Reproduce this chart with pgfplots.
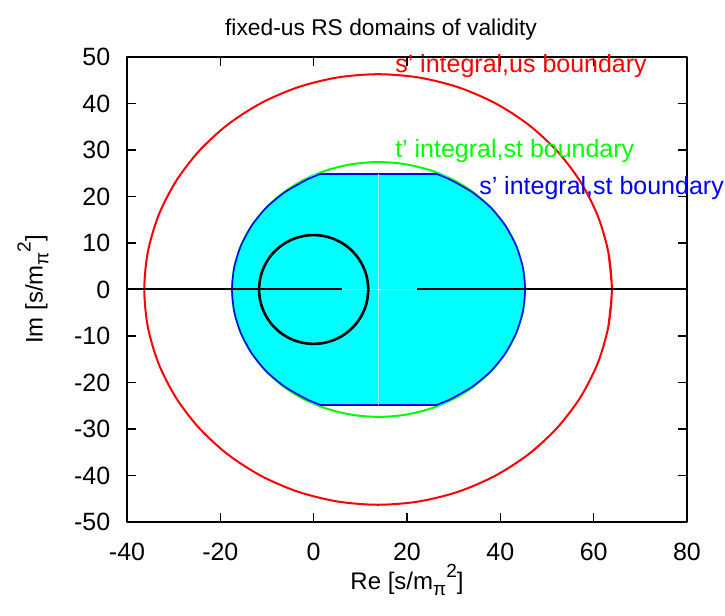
\documentclass[border=0pt]{standalone}
\usepackage{pgfplots}
\pgfplotsset{compat=1.18}
\usepackage{fontspec}
\setmainfont{Liberation Sans}
\newcommand{\mpi}{m\raisebox{-0.45ex}{\fontsize{9.5pt}{10pt}\selectfont π}\raisebox{0.95ex}{\fontsize{9.5pt}{10pt}\selectfont 2}}
\begin{document}
\fontsize{12.5pt}{14pt}\selectfont
\begin{tikzpicture}
\begin{axis}[
  scale only axis, width=280pt, height=232.5pt,
  xmin=-40, xmax=80, ymin=-50, ymax=50,
  xtick={-40,-20,...,80}, ytick={-50,-40,...,50},
  tick align=inside, major tick length=4.5pt,
  axis line style={line width=1pt},
  every tick/.style={black, line width=0.8pt},
  /pgf/number format/assume math mode=true,
  font=\fontsize{12.5pt}{14pt}\selectfont,
  xticklabel style={yshift=-6pt},
  yticklabel style={xshift=-4pt},
  clip=false,
  title={fixed-us RS domains of validity},
  title style={at={(axis description cs:0.4536,1.033)}, anchor=center, font=\fontsize{11.4pt}{13pt}\selectfont},
  xlabel={Re [s/\mpi]},
  xlabel style={at={(axis description cs:0.5,-0.125)}, anchor=center, font=\fontsize{12pt}{14pt}\selectfont},
  ylabel={Im [s/\mpi]},
  ylabel style={at={(axis description cs:-0.168,0.5)}, anchor=center, font=\fontsize{12pt}{14pt}\selectfont},
  line join=round,
]
\coordinate (bbl) at (rel axis cs:-0.2268,-0.2022);
\coordinate (btr) at (rel axis cs:1.0679,1.1226);
% s' integral, us boundary
\addplot[red, line width=1pt, smooth] coordinates {
(63.139,-8.040) (63.9,0) (63.139,8.040) (60.878,15.836) (57.188,23.15) (52.179,29.761) (46.004,35.468) (38.85,40.097) (30.935,43.508) (22.5,45.597) (13.8,46.3) (5.1,45.597) (-3.335,43.508) (-11.25,40.097) (-18.404,35.468) (-24.579,29.761) (-29.588,23.15) (-33.278,15.836) (-35.539,8.040) (-36.3,0) (-35.539,-8.040) (-33.278,-15.836) (-29.588,-23.15) (-24.579,-29.761) (-18.404,-35.468) (-11.25,-40.097) (-3.335,-43.508) (5.1,-45.597) (13.8,-46.3) (22.5,-45.597) (30.935,-43.508) (38.85,-40.097) (46.004,-35.468) (52.179,-29.761) (57.188,-23.15) (60.878,-15.836) (63.139,-8.040) (63.9,0) (63.139,8.040)
};
% t' integral, st boundary
\addplot[color={rgb,255:red,0;green,255;blue,0}, line width=1pt, smooth] coordinates {
(44.823,-4.758) (45.3,0) (44.823,4.758) (43.406,9.371) (41.093,13.7) (37.954,17.612) (34.084,20.989) (29.6,23.729) (24.639,25.748) (19.353,26.984) (13.9,27.4) (8.447,26.984) (3.161,25.748) (-1.8,23.729) (-6.284,20.989) (-10.154,17.612) (-13.293,13.7) (-15.606,9.371) (-17.023,4.758) (-17.5,0) (-17.023,-4.758) (-15.606,-9.371) (-13.293,-13.7) (-10.154,-17.612) (-6.284,-20.989) (-1.8,-23.729) (3.161,-25.748) (8.447,-26.984) (13.9,-27.4) (19.353,-26.984) (24.639,-25.748) (29.6,-23.729) (34.084,-20.989) (37.954,-17.612) (41.093,-13.7) (43.406,-9.371) (44.823,-4.758) (45.3,0) (44.823,4.758)
};
% s' integral, st boundary (filled): fill, then outline pieces
\addplot[draw=none, fill={rgb,255:red,0;green,255;blue,255}, smooth, tension=0.4] coordinates {
(45.3,0) (44.823,4.758) (43.406,9.371) (41.093,13.7) (37.954,17.612) (34.0,20.9) (29.3,23.6) (26.2,24.9) (1.6,24.9) (-1.5,23.6) (-6.2,20.9) (-10.154,17.612) (-13.293,13.7) (-15.606,9.371) (-17.023,4.758) (-17.5,0) (-17.023,-4.758) (-15.606,-9.371) (-13.293,-13.7) (-10.154,-17.612) (-6.2,-20.9) (-1.5,-23.6) (1.6,-24.9) (26.2,-24.9) (29.3,-23.6) (34.0,-20.9) (37.954,-17.612) (41.093,-13.7) (43.406,-9.371) (44.823,-4.758) (45.3,0)
} -- cycle;
\addplot[blue, line width=0.8pt, smooth, tension=0.4] coordinates {
(26.2,24.9) (29.3,23.6) (34.0,20.9) (37.954,17.612) (41.093,13.7) (43.406,9.371) (44.823,4.758) (45.3,0) (44.823,-4.758) (43.406,-9.371) (41.093,-13.7) (37.954,-17.612) (34.0,-20.9) (29.3,-23.6) (26.2,-24.9)
};
\addplot[blue, line width=0.8pt, smooth, tension=0.4] coordinates {
(1.6,24.9) (-1.5,23.6) (-6.2,20.9) (-10.154,17.612) (-13.293,13.7) (-15.606,9.371) (-17.023,4.758) (-17.5,0) (-17.023,-4.758) (-15.606,-9.371) (-13.293,-13.7) (-10.154,-17.612) (-6.2,-20.9) (-1.5,-23.6) (1.6,-24.9)
};
\addplot[blue, line width=0.8pt] coordinates {(1.6,24.9) (26.2,24.9)};
\addplot[blue, line width=0.8pt] coordinates {(1.6,-24.9) (26.2,-24.9)};
% faint seams in the fill
\addplot[color=cyan!35!white, line width=0.4pt] coordinates {(13.9,-24.9) (13.9,24.9)};
\addplot[color=cyan!35!white, line width=0.4pt] coordinates {(6.1,0) (22.2,0)};
% cuts on the real axis
\addplot[black, line width=1pt] coordinates {(-40,0) (6.1,0)};
\addplot[black, line width=1pt] coordinates {(22.2,0) (80,0)};
% black circle
\addplot[black, line width=1.3pt, smooth] coordinates {
(11.522,-2.032) (11.7,0) (11.522,2.032) (10.994,4.002) (10.133,5.85) (8.963,7.521) (7.521,8.963) (5.85,10.133) (4.002,10.994) (2.032,11.522) (0,11.7) (-2.032,11.522) (-4.002,10.994) (-5.85,10.133) (-7.521,8.963) (-8.963,7.521) (-10.133,5.85) (-10.994,4.002) (-11.522,2.032) (-11.7,0) (-11.522,-2.032) (-10.994,-4.002) (-10.133,-5.85) (-8.963,-7.521) (-7.521,-8.963) (-5.85,-10.133) (-4.002,-10.994) (-2.032,-11.522) (0,-11.7) (2.032,-11.522) (4.002,-10.994) (5.85,-10.133) (7.521,-8.963) (8.963,-7.521) (10.133,-5.85) (10.994,-4.002) (11.522,-2.032) (11.7,0) (11.522,2.032)
};
\node[red, anchor=west, inner sep=0] at (axis cs:17.4,48.0) {s' integral,us boundary};
\node[color={rgb,255:red,0;green,255;blue,0}, anchor=west, inner sep=0] at (axis cs:17.4,29.8) {t' integral,st boundary};
\node[blue, anchor=west, inner sep=0] at (axis cs:35.4,21.8) {s' integral,st boundary};
\end{axis}
\pgfresetboundingbox
\path[use as bounding box] (bbl) rectangle (btr);
\end{tikzpicture}
\end{document}
